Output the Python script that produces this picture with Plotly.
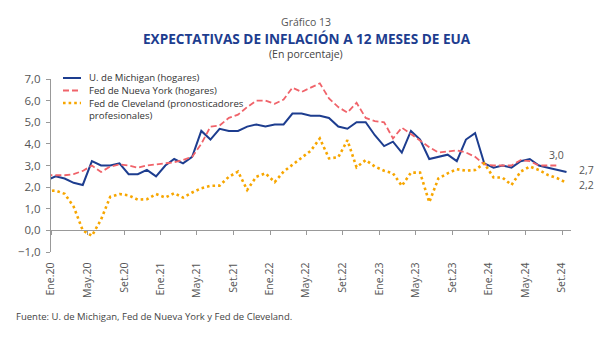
import pandas as pd
import plotly.graph_objects as go

# Monthly series, Dec 2019 - Sep 2024 (percent)
months = pd.period_range("2019-12", "2024-09", freq="M")

michigan = [2.3,
            2.5, 2.4, 2.2, 2.1, 3.2, 3.0, 3.0, 3.1, 2.6, 2.6, 2.8, 2.5,
            3.0, 3.3, 3.1, 3.4, 4.6, 4.2, 4.7, 4.6, 4.6, 4.8, 4.9, 4.8,
            4.9, 4.9, 5.4, 5.4, 5.3, 5.3, 5.2, 4.8, 4.7, 5.0, 5.0, 4.4,
            3.9, 4.1, 3.6, 4.6, 4.2, 3.3, 3.4, 3.5, 3.2, 4.2, 4.5, 3.1,
            2.9, 3.0, 2.9, 3.2, 3.3, 3.0, 2.9, 2.8, 2.7]

nueva_york = [2.55,
              2.55, 2.55, 2.6, 2.75, 3.0, 2.7, 2.95, 3.05, 3.0, 2.9, 3.0, 3.05,
              3.1, 3.15, 3.25, 3.4, 4.0, 4.8, 4.85, 5.2, 5.35, 5.7, 6.0, 6.0,
              5.85, 6.05, 6.6, 6.4, 6.6, 6.8, 6.1, 5.7, 5.45, 5.9, 5.2, 5.05,
              5.0, 4.25, 4.75, 4.45, 4.15, 3.85, 3.6, 3.65, 3.7, 3.6, 3.4, 3.05,
              3.0, 3.0, 3.0, 3.25, 3.2, 3.0, 3.0, 3.0, None]

cleveland = [1.82,
             1.84, 1.69, 1.1, 0.0, -0.25, 0.5, 1.55, 1.68, 1.62, 1.42, 1.44, 1.68,
             1.52, 1.72, 1.52, 1.75, 1.95, 2.06, 2.07, 2.48, 2.72, 1.87, 2.48, 2.64,
             2.23, 2.72, 3.02, 3.33, 3.68, 4.25, 3.33, 3.38, 4.17, 2.92, 3.25, 2.95,
             2.76, 2.64, 2.06, 2.67, 2.67, 1.3, 2.4, 2.64, 2.83, 2.76, 2.79, 3.1,
             2.45, 2.44, 2.1, 2.72, 2.95, 2.79, 2.56, 2.41, 2.2]

tick_months = ["2020-01", "2020-05", "2020-09", "2021-01", "2021-05", "2021-09",
               "2022-01", "2022-05", "2022-09", "2023-01", "2023-05", "2023-09",
               "2024-01", "2024-05", "2024-09"]
tick_labels = ["Ene.20", "May.20", "Set.20", "Ene.21", "May.21", "Set.21",
               "Ene.22", "May.22", "Set.22", "Ene.23", "May.23", "Set.23",
               "Ene.24", "May.24", "Set.24"]

names = ["U. de Michigan (hogares)", "Fed de Nueva York (hogares)",
         "Fed de Cleveland (pronosticadores", "profesionales)"]

# plot each monthly value at the middle of its month
starts = months.to_timestamp(how="start")
ends = (months + 1).to_timestamp(how="start")
x_mid = starts + (ends - starts) / 2

BLUE = "#1d3d8f"
RED = "#f0636a"
ORANGE = "#f7a600"
GREY_TXT = "#555555"
FONT = "Open Sans"

W, H = 600, 339
ML, MR, MT, MB = 51, 29, 79, 87
PW, PH = W - ML - MR, H - MT - MB


def px_x(px):
    return (px - ML) / PW


def px_y(py):
    return (H - MB - py) / PH


fig = go.Figure()
fig.add_trace(go.Scatter(x=x_mid, y=michigan, mode="lines", name=names[0],
                         line=dict(color=BLUE, width=2)))
fig.add_trace(go.Scatter(x=x_mid, y=nueva_york, mode="lines", name=names[1],
                         line=dict(color=RED, width=1.8, dash="6px,3px")))
fig.add_trace(go.Scatter(x=x_mid, y=cleveland, mode="lines", name=names[2],
                         line=dict(color=ORANGE, width=2.6, dash="2.6px,3px")))

annotations = [
    dict(text="Gráfico 13", x=px_x(306), y=px_y(22), font=dict(size=10.5, color=GREY_TXT)),
    dict(text="<b>EXPECTATIVAS DE INFLACIÓN A 12 MESES DE EUA</b>", x=px_x(307), y=px_y(38),
         font=dict(size=13.6, color="#1d3d8f")),
    dict(text="(En porcentaje)", x=px_x(306), y=px_y(54), font=dict(size=10.5, color="#444444")),
    dict(text="Fuente: U. de Michigan, Fed de Nueva York y Fed de Cleveland.",
         x=px_x(14), y=px_y(316), xanchor="left", font=dict(size=9.5, color="#444444")),
]
for a in annotations:
    a.update(xref="paper", yref="paper", showarrow=False, yanchor="middle",
             xanchor=a.get("xanchor", "center"))

# legend keys and labels
legend_rows = [78, 90.5, 103, 115]
legend_styles = [dict(color=BLUE, width=2),
                 dict(color=RED, width=1.8, dash="6px,3px"),
                 dict(color=ORANGE, width=2.6, dash="2.6px,3px")]
shapes = []
for row, style in zip(legend_rows[:3], legend_styles):
    shapes.append(dict(type="line", xref="paper", yref="paper",
                       x0=px_x(63), x1=px_x(81), y0=px_y(row), y1=px_y(row), line=style))
for row, label in zip(legend_rows, names):
    annotations.append(dict(text=label, xref="paper", yref="paper", x=px_x(88), y=px_y(row),
                            xanchor="left", yanchor="middle", showarrow=False, borderpad=0,
                            font=dict(size=9.6, color="#333333")))

# end-of-series value labels
last_ny = max(i for i, v in enumerate(nueva_york) if v is not None)
end_labels = [(x_mid[last_ny], nueva_york[last_ny], -1, -11, "center"),
              (x_mid[-1], michigan[-1], 10, -2, "left"),
              (x_mid[-1], cleveland[-1], 10, 2, "left")]
for xv, yv, dx, dy, anchor in end_labels:
    annotations.append(dict(x=xv, y=yv, xref="x", yref="y", text=f"{yv:.1f}".replace(".", ","),
                            showarrow=False, xshift=dx, yshift=-dy, xanchor=anchor,
                            yanchor="middle", font=dict(size=10.5, color=GREY_TXT)))

fig.update_layout(
    width=W, height=H,
    margin=dict(l=ML, r=MR, t=MT, b=MB),
    paper_bgcolor="white", plot_bgcolor="white",
    font=dict(family=FONT, color=GREY_TXT),
    showlegend=False,
    separators=",.",
    annotations=annotations,
    shapes=shapes,
    xaxis=dict(
        type="date",
        range=["2020-01-01", "2024-10-01"],
        anchor="free", position=0.125,
        tickvals=pd.PeriodIndex(tick_months, freq="M").to_timestamp(),
        ticktext=tick_labels,
        tickangle=-90,
        ticks="outside", ticklen=4, tickcolor="#999999",
        ticklabelstandoff=23,
        showline=True, linecolor="#999999", linewidth=1,
        showgrid=False, zeroline=False,
        tickfont=dict(size=10.5, color=GREY_TXT),
    ),
    yaxis=dict(
        range=[-1, 7], dtick=1, tick0=0, tickformat=".1f",
        ticks="outside", ticklen=4, tickcolor="#999999",
        ticklabelstandoff=3,
        showline=True, linecolor="#999999", linewidth=1,
        showgrid=False, zeroline=False,
        tickfont=dict(size=11.5, color=GREY_TXT),
    ),
)

fig.write_html("out.html")
